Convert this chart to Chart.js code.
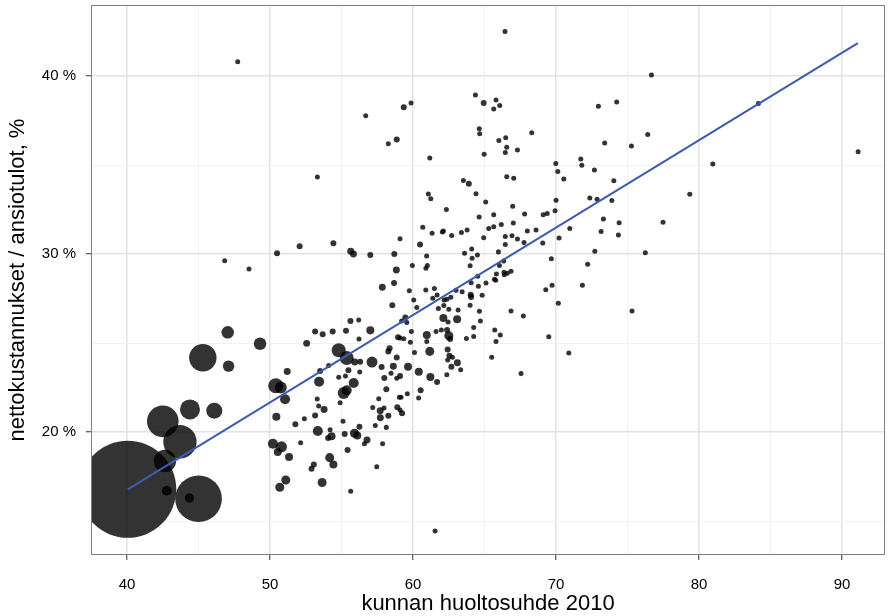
<!DOCTYPE html>
<html>
<head>
<meta charset="utf-8">
<script src="https://cdn.jsdelivr.net/npm/chart.js@4.4.1/dist/chart.umd.min.js"></script>
<style>
  html, body { margin: 0; padding: 0; background: #fff; }
  #wrap { width: 888px; height: 616px; }
</style>
</head>
<body>
<div id="wrap"><canvas id="kuva"></canvas></div>
<script>
// kunnan huoltosuhde 2010
const huoltosuhde = [
  40.05, 42.5, 43.7, 42.65, 42.78, 45.0, 44.36, 45.3, 44.4, 46.1,
  47.04, 47.1, 49.3, 50.4, 50.75, 51.05, 51.2, 50.44, 50.2, 50.8,
  50.54, 51.33, 51.1, 50.68, 47.74, 46.83, 48.53, 50.49, 52.07, 53.31,
  54.43, 55.64, 55.83, 57.01, 58.69, 58.83, 56.69, 58.27, 58.86, 59.35,
  59.86, 57.85, 58.67, 58.55, 55.62, 56.2, 53.15, 53.68, 54.38, 55.31,
  57.01, 52.56, 56.22, 54.8, 55.36, 55.92, 56.3, 57.13, 57.8, 58.27,
  58.36, 58.86, 58.62, 58.95, 58.46, 58.86, 57.99, 54.1, 53.5, 55.48,
  54.8, 55.27, 56.27, 55.85, 53.43, 55.15, 55.36, 53.3, 53.4, 53.78,
  54.9, 58.13, 57.6, 57.7, 57.18, 57.97, 58.9, 59.04, 51.77, 52.4,
  53.15, 53.34, 54.2, 54.3, 54.06, 55.1, 55.22, 55.9, 56.1, 56.25,
  56.78, 56.6, 57.36, 58.13, 57.71, 58.27, 55.42, 57.87, 57.46, 52.14,
  54.17, 54.43, 53.06, 52.9, 53.64, 55.64, 64.36, 64.94, 65.8, 66.06,
  65.64, 64.63, 64.66, 66.0, 66.48, 68.3, 66.55, 66.45, 67.3, 64.97,
  61.17, 66.55, 67.04, 63.52, 63.9, 61.07, 61.24, 64.4, 65.08, 66.97,
  62.33, 66.43, 64.62, 65.64, 67.8, 69.1, 69.38, 60.68, 61.33, 62.05,
  62.12, 62.7, 63.38, 63.78, 65.29, 65.64, 66.17, 67.01, 64.94, 66.45,
  66.92, 67.3, 67.99, 68.6, 66.45, 67.76, 69.07, 60.49, 59.09, 60.95,
  59.95, 61.0, 60.9, 63.6, 64.1, 64.5, 64.13, 63.99, 65.97, 66.34,
  66.04, 65.83, 66.36, 66.38, 66.59, 66.85, 65.69, 65.78, 65.1, 64.52,
  64.57, 64.06, 63.43, 63.0, 64.03, 64.06, 64.83, 63.99, 64.64, 64.71,
  64.24, 66.85, 67.71, 69.28, 69.49, 59.74, 60.89, 61.49, 60.05, 60.26,
  61.38, 61.68, 62.17, 62.36, 62.64, 61.77, 62.15, 62.5, 63.15, 59.46,
  59.2, 62.12, 63.08, 62.45, 59.56, 61.98, 62.38, 61.61, 60.96, 62.5,
  62.59, 63.73, 64.24, 59.88, 65.71, 66.1, 65.8, 59.09, 59.35, 59.81,
  60.96, 60.1, 61.17, 62.42, 62.54, 62.75, 62.42, 63.1, 62.68, 63.33,
  62.36, 59.65, 60.4, 61.21, 61.68, 59.09, 60.53, 60.39, 59.6, 59.16,
  59.09, 59.23, 65.5, 67.55, 72.96, 74.24, 76.41, 73.4, 75.27, 69.98,
  70.12, 71.73, 71.8, 72.68, 70.54, 74.04, 72.36, 72.87, 73.9, 70.0,
  69.93, 79.35, 73.31, 74.41, 77.48, 73.15, 74.36, 70.96, 70.21, 72.71,
  76.24, 69.67, 72.21, 69.72, 71.84, 70.16, 75.31, 70.89, 76.67, 84.15, 91.12, 80.96, 61.54
];

// nettokustannukset / ansiotulot, %
const osuus = [
  16.78, 20.6, 19.45, 18.37, 16.7, 16.25, 16.29, 24.17, 21.27, 21.2,
  25.6, 23.7, 24.96, 22.6, 22.5, 21.84, 23.4, 20.86, 19.34, 19.17,
  18.88, 18.6, 17.3, 16.9, 40.8, 29.62, 29.16, 30.04, 30.43, 34.33,
  30.6, 30.15, 30.0, 29.94, 30.0, 29.1, 37.77, 36.2, 36.44, 38.24,
  38.48, 28.13, 28.37, 27.12, 26.24, 26.29, 25.64, 25.49, 25.64, 25.69,
  25.71, 24.98, 25.22, 24.59, 24.16, 23.93, 23.95, 23.93, 23.65, 24.53,
  24.7, 24.18, 23.69, 25.32, 23.3, 23.02, 23.03, 23.74, 23.43, 23.47,
  23.07, 23.15, 23.37, 22.75, 22.83, 22.19, 22.34, 21.85, 21.46, 21.27,
  21.65, 22.4, 21.87, 21.2, 21.37, 21.35, 21.39, 21.95, 20.43, 20.75,
  20.93, 20.06, 20.13, 19.76, 19.66, 20.6, 19.89, 19.93, 19.81, 20.3,
  19.55, 19.34, 20.36, 20.26, 20.8, 20.92, 18.99, 19.34, 18.05, 19.4,
  18.56, 18.18, 18.18, 17.94, 17.16, 16.67, 38.93, 38.48, 38.65, 38.35,
  38.15, 37.04, 36.76, 36.38, 36.53, 36.81, 36.0, 35.7, 35.84, 35.6,
  35.39, 34.34, 34.25, 34.13, 33.95, 33.37, 33.11, 33.39, 32.92, 32.68,
  32.5, 42.5, 32.08, 32.21, 32.25, 32.21, 32.28, 31.5, 31.16, 31.23,
  31.29, 31.04, 31.21, 31.35, 31.44, 31.53, 31.66, 31.74, 30.91, 30.99,
  31.02, 30.84, 31.29, 31.35, 30.53, 30.64, 30.62, 30.53, 30.86, 29.89,
  29.36, 29.36, 29.2, 30.04, 30.28, 29.94, 29.76, 29.34, 30.12, 29.61,
  29.35, 28.88, 28.97, 28.84, 28.92, 29.03, 28.58, 28.52, 28.37, 28.75,
  28.19, 28.39, 27.88, 27.96, 27.71, 27.58, 27.68, 27.12, 26.78, 26.24,
  25.87, 26.8, 26.52, 27.99, 25.35, 27.94, 27.98, 28.06, 27.42, 26.99,
  27.51, 27.7, 27.42, 27.46, 27.57, 26.94, 27.11, 26.9, 26.85, 26.44,
  26.24, 26.4, 26.33, 26.18, 26.15, 25.73, 25.73, 25.64, 25.45, 25.41,
  25.22, 25.26, 25.37, 25.64, 25.73, 25.45, 25.08, 25.28, 25.24, 25.04,
  25.08, 24.46, 24.53, 24.64, 24.29, 24.2, 24.04, 23.89, 23.67, 23.5,
  23.22, 23.67, 23.39, 23.09, 22.81, 23.15, 22.34, 21.91, 22.15, 21.95,
  21.24, 21.05, 24.2, 23.28, 38.3, 38.54, 36.71, 36.24, 36.07, 35.08,
  34.63, 35.34, 34.99, 34.72, 34.21, 34.12, 33.15, 33.07, 33.01, 33.02,
  32.43, 33.36, 31.97, 31.76, 31.78, 31.27, 31.07, 31.44, 30.9, 30.15,
  30.07, 29.74, 29.42, 28.24, 28.24, 27.23, 26.8, 24.44, 40.06, 38.46, 35.75, 35.06, 14.44
];

// asukasluku, tuhatta
const asukkaat = [
  600, 64, 71, 32, 6.4, 139, 5.6, 48, 25.6, 16.4,
  10, 8.3, 10, 14.4, 9.2, 6.4, 3.1, 4.1, 6.4, 7.7,
  4.1, 4.1, 5.2, 5.2, 1.6, 1.6, 1.6, 2.3, 2.3, 1.6,
  2.3, 3.1, 3.1, 2.3, 2.3, 3.1, 1.6, 1.6, 2.3, 2.3,
  1.6, 3.1, 2.3, 2.3, 2.3, 1.6, 2.3, 2.3, 2.3, 2.3,
  4.1, 3.1, 1.6, 12.5, 12.5, 3.1, 2.3, 7.7, 2.3, 2.3,
  2.3, 2.3, 3.1, 2.3, 1.6, 1.6, 2.3, 1.6, 2.3, 2.3,
  1.6, 1.6, 1.6, 6.4, 6.4, 9.2, 6.4, 1.6, 1.6, 3.1,
  1.6, 2.3, 1.6, 3.1, 1.6, 1.6, 2.3, 1.6, 2.3, 1.6,
  2.3, 6.4, 1.6, 4.1, 2.3, 1.6, 2.3, 5.2, 4.1, 2.3,
  3.1, 1.6, 1.6, 1.6, 3.1, 2.3, 2.3, 1.6, 1.6, 1.6,
  5.2, 4.1, 2.3, 2.3, 5.2, 1.6, 1.6, 2.3, 1.6, 1.6,
  1.6, 1.6, 1.6, 1.6, 1.6, 1.6, 1.6, 1.6, 1.6, 1.6,
  1.6, 1.6, 1.6, 1.6, 2.3, 1.6, 1.6, 1.6, 1.6, 1.6,
  1.6, 1.6, 1.6, 1.6, 1.6, 1.6, 1.6, 1.6, 1.6, 1.6,
  1.6, 1.6, 1.6, 1.6, 1.6, 1.6, 1.6, 1.6, 1.6, 1.6,
  1.6, 1.6, 1.6, 1.6, 1.6, 1.6, 1.6, 2.3, 1.6, 1.6,
  1.6, 1.6, 1.6, 1.6, 1.6, 1.6, 1.6, 1.6, 1.6, 1.6,
  1.6, 1.6, 1.6, 1.6, 1.6, 1.6, 1.6, 1.6, 1.6, 1.6,
  1.6, 1.6, 1.6, 1.6, 2.3, 2.3, 1.6, 1.6, 1.6, 1.6,
  1.6, 1.6, 1.6, 1.6, 1.6, 1.6, 1.6, 1.6, 1.6, 1.6,
  1.6, 1.6, 1.6, 1.6, 1.6, 1.6, 1.6, 1.6, 1.6, 2.3,
  1.6, 4.1, 4.1, 1.6, 1.6, 1.6, 2.3, 1.6, 4.1, 5.2,
  2.3, 1.6, 1.6, 1.6, 1.6, 1.6, 1.6, 1.6, 1.6, 1.6,
  1.6, 1.6, 5.2, 2.3, 2.3, 1.6, 1.6, 3.1, 2.3, 1.6,
  1.6, 4.1, 4.1, 4.1, 2.3, 2.3, 2.3, 1.6, 1.6, 1.6,
  1.6, 2.3, 1.6, 1.6, 1.6, 1.6, 1.6, 1.6, 1.6, 1.6,
  1.6, 1.6, 1.6, 1.6, 1.6, 1.6, 1.6, 1.6, 1.6, 1.6,
  1.6, 1.6, 1.6, 1.6, 1.6, 1.6, 1.6, 1.6, 1.6, 1.6,
  1.6, 1.6, 1.6, 1.6, 1.6, 1.6, 1.6, 1.6, 1.6, 1.6, 1.6, 1.6, 1.6
];

// lineaarinen sovite (päätepisteet)
const sovite_x = [40.05, 91.1];
const sovite_y = [16.78, 41.85];

const x_tikit = [40, 45, 50, 55, 60, 65, 70, 75, 80, 85, 90];
const y_tikit = [15, 20, 25, 30, 35, 40];

function sade(asuk) {
  return 48.5 * Math.sqrt(asuk / 600);
}

const pisteet = huoltosuhde.map((x, i) => ({ x: x, y: osuus[i], r: sade(asukkaat[i]) }));
const sovite = sovite_x.map((x, i) => ({ x: x, y: sovite_y[i] }));

const paaviiva = v => Math.abs(v % 10) < 1e-6;

const kehys = {
  id: 'kehys',
  afterDraw(chart) {
    const a = chart.chartArea;
    const c = chart.ctx;
    c.save();
    c.strokeStyle = '#7f7f7f';
    c.lineWidth = 1;
    c.strokeRect(a.left + 0.5, a.top + 0.5, a.right - a.left - 1, a.bottom - a.top - 1);
    c.restore();
  }
};

new Chart(document.getElementById('kuva'), {
  type: 'bubble',
  data: {
    datasets: [
      {
        type: 'line',
        data: sovite,
        borderColor: '#3f5bad',
        borderWidth: 2,
        pointRadius: 0,
        fill: false,
        clip: 0,
        order: 0
      },
      {
        data: pisteet,
        backgroundColor: 'rgba(0,0,0,0.8)',
        borderWidth: 0,
        clip: 0,
        order: 1
      }
    ]
  },
  plugins: [kehys],
  options: {
    responsive: true,
    maintainAspectRatio: false,
    animation: false,
    layout: { autoPadding: false, padding: { left: 0, top: 5, right: 3, bottom: 0 } },
    scales: {
      x: {
        type: 'linear',
        min: 37.48,
        max: 93.0,
        afterBuildTicks: s => { s.ticks = x_tikit.map(v => ({ value: v })); },
        afterFit: s => { s.height = 61; s.paddingLeft = 0; s.paddingRight = 0; },
        border: { display: false },
        grid: {
          color: c => paaviiva(c.tick.value) ? '#e2e2e2' : '#f2f2f2',
          lineWidth: c => paaviiva(c.tick.value) ? 1.5 : 1,
          tickColor: c => paaviiva(c.tick.value) ? '#333' : 'rgba(0,0,0,0)',
          tickLength: 5,
          tickWidth: 1
        },
        ticks: {
          autoSkip: false,
          maxRotation: 0,
          padding: 16,
          color: '#000',
          font: { family: 'Liberation Sans', size: 15 },
          callback: v => paaviiva(v) ? String(v) : ''
        },
        title: {
          display: true,
          text: 'kunnan huoltosuhde 2010',
          color: '#000',
          font: { family: 'Liberation Sans', size: 22 },
          padding: { top: 0, bottom: -1 }
        }
      },
      y: {
        type: 'linear',
        min: 13.09,
        max: 43.99,
        afterBuildTicks: s => { s.ticks = y_tikit.map(v => ({ value: v })); },
        afterFit: s => { s.width = 91; s.paddingTop = 0; s.paddingBottom = 0; },
        border: { display: false },
        grid: {
          color: c => paaviiva(c.tick.value) ? '#e2e2e2' : '#f2f2f2',
          lineWidth: c => paaviiva(c.tick.value) ? 1.5 : 1,
          tickColor: c => paaviiva(c.tick.value) ? '#333' : 'rgba(0,0,0,0)',
          tickLength: 5,
          tickWidth: 1
        },
        ticks: {
          autoSkip: false,
          padding: 10,
          color: '#000',
          font: { family: 'Liberation Sans', size: 15 },
          callback: v => paaviiva(v) ? v + ' %' : ''
        },
        title: {
          display: true,
          text: 'nettokustannukset / ansiotulot, %',
          color: '#000',
          font: { family: 'Liberation Sans', size: 22 },
          padding: { top: 5, bottom: 0 }
        }
      }
    },
    plugins: {
      legend: { display: false },
      tooltip: { enabled: false }
    }
  }
});
</script>
</body>
</html>
